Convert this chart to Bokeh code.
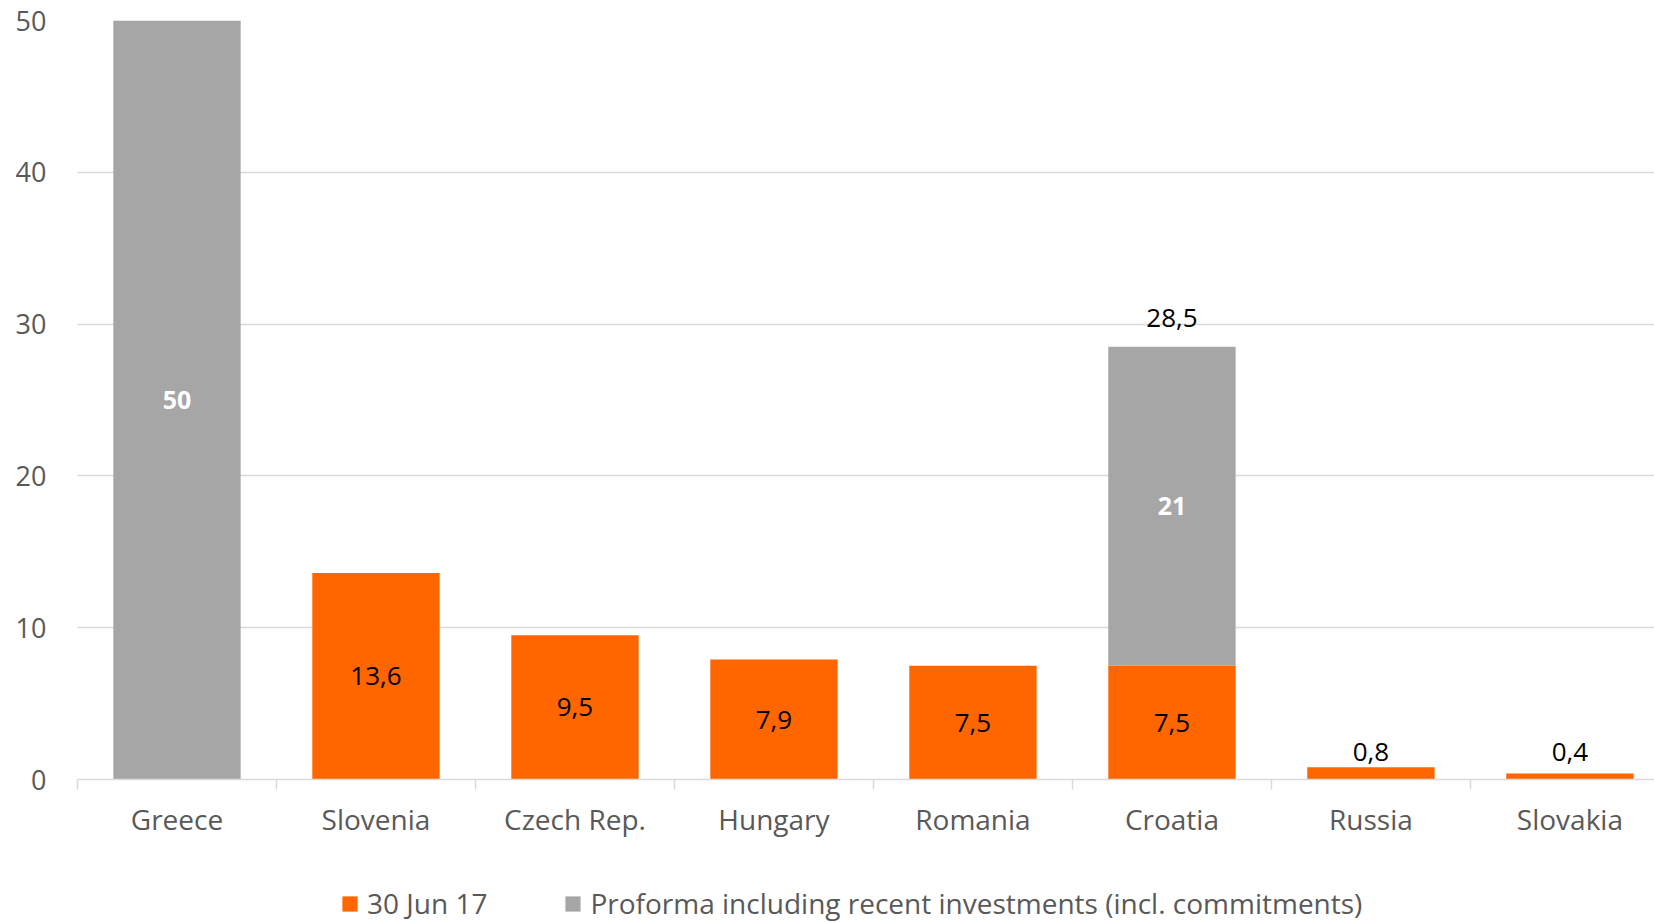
from bokeh.plotting import figure
from bokeh.layouts import column
from bokeh.models import (ColumnDataSource, Range1d, FixedTicker, Legend, LegendItem)
from bokeh.core.properties import value
from bokeh.embed import file_html
from bokeh.resources import INLINE

categories = ["Greece", "Slovenia", "Czech Rep.", "Hungary", "Romania", "Croatia", "Russia", "Slovakia"]
jun17 = [0, 13.6, 9.5, 7.9, 7.5, 7.5, 0.8, 0.4]
proforma = [50, 0, 0, 0, 0, 21, 0, 0]
y_ticks = [0, 10, 20, 30, 40, 50]
series_names = ["30 Jun 17", "Proforma including recent investments (incl. commitments)"]

ORANGE = "#FF6600"
GREY = "#A6A6A6"
GRID = "#D9D9D9"
TXT = "#595959"
FONT = "Open Sans"

def fmt(v):
    return ("%g" % v).replace(".", ",")

xs = [i + 0.5 for i in range(len(categories))]
totals = [a + b for a, b in zip(jun17, proforma)]

src = ColumnDataSource(dict(x=xs, jun17=jun17, proforma=proforma))

p = figure(width=1654, height=862, output_backend="svg", toolbar_location=None,
           x_range=Range1d(0, 7.925), y_range=Range1d(0, 50),
           min_border_left=77, min_border_right=0, min_border_top=20, min_border_bottom=83)
p.outline_line_color = None
p.background_fill_color = "white"

rs = p.vbar_stack(["jun17", "proforma"], x="x", width=0.64, source=src,
                  color=[ORANGE, GREY], line_color=None)

in_idx = [i for i, v in enumerate(jun17) if v >= 5]
p.text(x=[xs[i] for i in in_idx], y=[jun17[i] / 2 for i in in_idx],
       text=[fmt(jun17[i]) for i in in_idx], text_align="center", text_baseline="middle",
       text_font=value(FONT), text_font_size="26px", text_color="black")
# small bars: labels sit above the bars, on a common line (as in the reference)
out_idx = [i for i, v in enumerate(jun17) if 0 < v < 5]
small_top = max(jun17[i] for i in out_idx)
p.text(x=[xs[i] for i in out_idx], y=[small_top for i in out_idx],
       text=[fmt(jun17[i]) for i in out_idx], text_align="center", text_baseline="bottom",
       y_offset=-6, text_font=value(FONT), text_font_size="26px", text_color="black")
g_idx = [i for i, v in enumerate(proforma) if v > 0]
p.text(x=[xs[i] for i in g_idx], y=[jun17[i] + proforma[i] / 2 for i in g_idx],
       text=[fmt(proforma[i]) for i in g_idx], text_align="center", text_baseline="middle",
       text_font=value(FONT), text_font_size="25px", text_font_style="bold", text_color="white")
t_idx = [i for i in g_idx if jun17[i] > 0]
p.text(x=[xs[i] for i in t_idx], y=[totals[i] for i in t_idx],
       text=[fmt(totals[i]) for i in t_idx], text_align="center", text_baseline="bottom",
       y_offset=-20, text_font=value(FONT), text_font_size="26px", text_color="black")

p.xaxis.ticker = FixedTicker(ticks=xs, minor_ticks=list(range(len(categories) + 1)))
p.xaxis.major_label_overrides = {x: c for x, c in zip(xs, categories)}
p.xaxis.major_tick_out = 0
p.xaxis.major_tick_in = 0
p.xaxis.minor_tick_out = 10
p.xaxis.minor_tick_in = 0
p.xaxis.minor_tick_line_color = GRID
p.xaxis.minor_tick_line_width = 1.5
p.xaxis.axis_line_color = GRID
p.xaxis.axis_line_width = 1.5
p.xaxis.major_label_text_font = FONT
p.xaxis.major_label_text_font_size = "28px"
p.xaxis.major_label_text_color = TXT
p.xaxis.major_label_standoff = 10

p.yaxis.ticker = FixedTicker(ticks=y_ticks)
p.yaxis.axis_line_color = None
p.yaxis.major_tick_line_color = None
p.yaxis.minor_tick_line_color = None
p.yaxis.major_label_text_font = FONT
p.yaxis.major_label_text_font_size = "27px"
p.yaxis.major_label_text_color = TXT
p.yaxis.major_label_standoff = 25

p.xgrid.grid_line_color = None
p.ygrid.grid_line_color = GRID
p.ygrid.grid_line_width = 1.5
p.ygrid.ticker = FixedTicker(ticks=y_ticks)

# legend strip (zero-height proxy bars only carry the legend swatches)
p2 = figure(width=1654, height=60, output_backend="svg", toolbar_location=None,
            x_range=Range1d(0, 1), y_range=Range1d(0, 1),
            min_border_left=0, min_border_right=0, min_border_top=0, min_border_bottom=0,
            x_axis_type=None, y_axis_type=None)
p2.outline_line_color = None
p2.grid.grid_line_color = None
d1 = p2.vbar(x=[0.5], top=[0], bottom=[0], width=0.5, color=ORANGE, line_color=None)
d2 = p2.vbar(x=[0.5], top=[0], bottom=[0], width=0.5, color=GREY, line_color=None)
legend = Legend(items=[LegendItem(label=series_names[0], renderers=[d1]),
                       LegendItem(label=series_names[1], renderers=[d2])],
                orientation="horizontal", location=(263, 0),
                glyph_width=19, glyph_height=19, label_standoff=8, spacing=76,
                padding=0, margin=0, border_line_color=None, background_fill_alpha=0,
                label_text_font=FONT, label_text_font_size="28px", label_text_color=TXT,
                label_height=30)
p2.add_layout(legend, "center")

open("out.html", "w").write(file_html(column(p, p2, spacing=0), INLINE))
